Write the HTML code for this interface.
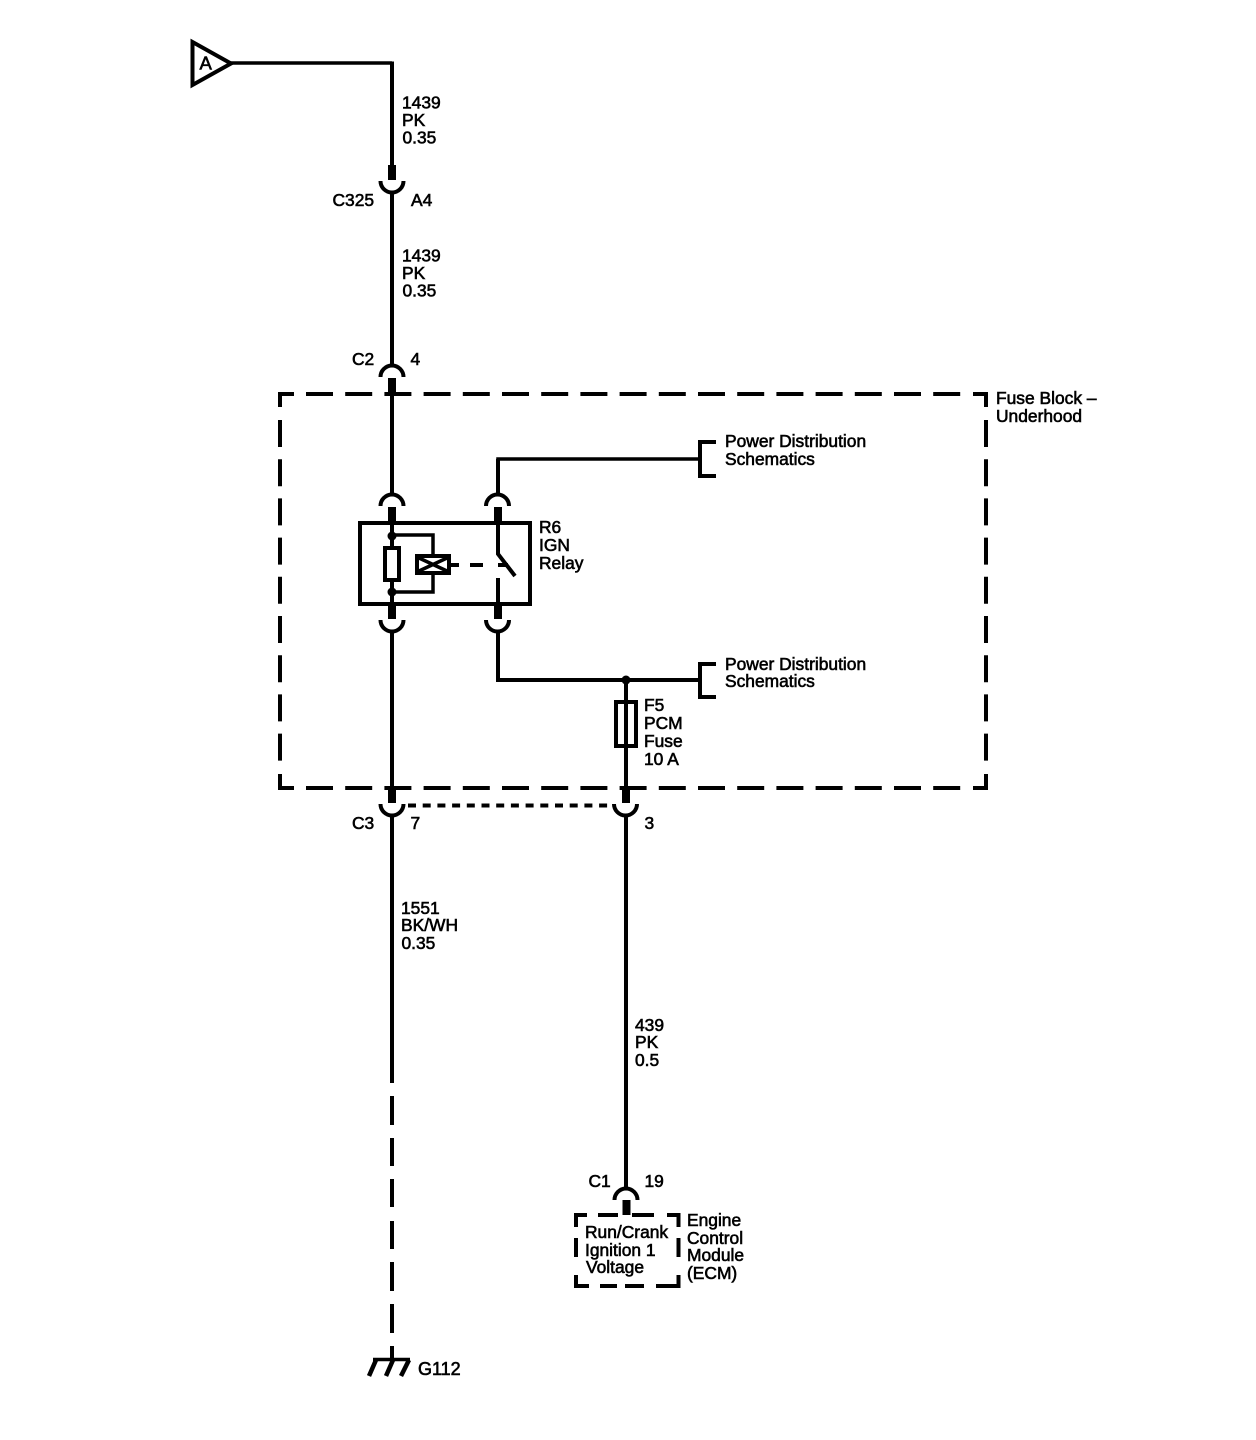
<!DOCTYPE html>
<html><head><meta charset="utf-8"><style>
html,body{margin:0;padding:0;background:#fff;width:1256px;height:1440px;overflow:hidden}
svg{display:block}
text{font-family:"Liberation Sans",sans-serif;font-size:17.4px;fill:#000;stroke:#000;stroke-width:.6}
.l{fill:none;stroke:#000;stroke-width:4}
.t{fill:none;stroke:#000;stroke-width:3.5}
.b{fill:none;stroke:#000;stroke-width:8}
.a{fill:none;stroke:#000;stroke-width:4}
</style></head><body>
<svg width="1256" height="1440" viewBox="0 0 1256 1440" xmlns="http://www.w3.org/2000/svg">
<rect width="1256" height="1440" fill="#fff"/>
<!-- off-page reference A -->
<polygon class="l" points="192.5,42 231,63.5 192.5,85"/>
<text x="199.5" y="69.5" style="font-size:18.5px">A</text>
<path class="t" d="M230 63H392"/>
<path class="l" d="M392 61.5V165"/>
<path class="b" d="M392 165V180"/>
<path class="a" d="M380.5 181A11.5 11.5 0 0 0 403.5 181"/>
<path class="l" d="M392 192V365"/>
<path class="a" d="M380.5 377A11.5 11.5 0 0 1 403.5 377"/>
<path class="b" d="M392 378V393"/>
<path class="l" d="M392 393V494"/>
<!-- fuse block dashed -->
<path class="l" d="M280 407V394H294M973 394H986V407M280 774V788H294M973 788H986V774"/>
<path class="l" stroke-dasharray="27 12.2" d="M306 394H962"/>
<path class="l" stroke-dasharray="27 12.2" d="M306 788H962"/>
<path class="l" stroke-dasharray="27 12.2" d="M280 420V762"/>
<path class="l" stroke-dasharray="27 12.2" d="M986 420V762"/>
<!-- relay upper connectors -->
<path class="a" d="M380.5 506A11.5 11.5 0 0 1 403.5 506"/>
<path class="a" d="M486 506A11.5 11.5 0 0 1 509 506"/>
<path class="b" d="M392 507V522M498 507V522"/>
<path class="t" d="M498 494V459H700"/>
<path class="l" d="M498 459V494"/>
<path class="l" d="M716 442H700V476H716"/>
<!-- relay box -->
<rect class="l" x="360" y="523" width="170" height="81"/>
<path class="l" d="M392 522V546M392 581V605"/>
<circle cx="392" cy="536" r="4.5"/>
<circle cx="392" cy="592" r="4.5"/>
<rect class="l" x="385" y="548" width="14" height="32"/>
<path class="t" d="M392 535H433V555M392 592H433V575"/>
<rect class="l" x="417" y="556" width="32" height="17"/>
<path class="t" d="M419 558L447 571M419 571L447 558"/>
<path class="l" d="M451 565H459M470 565H483M498 565H508"/>
<path class="l" d="M498 522V554L515 576M498 578V605"/>
<!-- relay lower connectors -->
<path class="b" d="M392 605V619M498 605V619"/>
<path class="a" d="M380.5 620A11.5 11.5 0 0 0 403.5 620"/>
<path class="a" d="M486 620A11.5 11.5 0 0 0 509 620"/>
<path class="l" d="M392 631V788M498 631V680"/>
<path class="l" d="M496 680H700"/>
<circle cx="626" cy="680" r="4.5"/>
<path class="l" d="M716 664H700V697H716"/>
<path class="l" d="M626 680V788"/>
<rect class="l" x="616" y="702" width="20" height="44"/>
<!-- C3 -->
<path class="b" d="M392 788V803M626 788V803"/>
<path class="a" d="M380.5 804A11.5 11.5 0 0 0 403.5 804"/>
<path class="a" d="M614 804A11.5 11.5 0 0 0 637 804"/>
<path class="l" stroke-dasharray="8 6.7" d="M408 805.5H612"/>
<path class="l" d="M392 815V1083M392 1096V1125M392 1138V1166M392 1179V1207M392 1221V1249M392 1262V1291M392 1304V1333M392 1346V1360"/>
<path class="l" d="M626 815V1189"/>
<!-- ground -->
<path class="t" d="M373 1359.5H410"/>
<path class="l" style="stroke-width:4.5" d="M376 1360L369 1376M393 1360L386 1376M409 1360L401 1376"/>
<!-- ECM -->
<path class="a" d="M614.5 1200A11.5 11.5 0 0 1 637.5 1200"/>
<path class="b" d="M626.5 1200V1215"/>
<path class="l" d="M587 1215H576V1227M598 1215H618M632 1215H654M667 1215H678.5V1227M576 1238V1257M678.5 1238V1257M576 1275V1286H589M600 1286H617M625 1286H644M656 1286H678.5V1275"/>
<!-- labels -->
<text x="402" y="108.5">1439</text><text x="402" y="126">PK</text><text x="402.5" y="143.5">0.35</text>
<text x="332.5" y="206">C325</text><text x="411" y="206">A4</text>
<text x="402" y="261.5">1439</text><text x="402" y="279">PK</text><text x="402.5" y="296.5">0.35</text>
<text x="352" y="365">C2</text><text x="410.5" y="365">4</text>
<text x="996" y="404">Fuse Block –</text><text x="996" y="422">Underhood</text>
<text x="725" y="447">Power Distribution</text><text x="725" y="465">Schematics</text>
<text x="539" y="533">R6</text><text x="539" y="551">IGN</text><text x="539" y="569">Relay</text>
<text x="725" y="670">Power Distribution</text><text x="725" y="687">Schematics</text>
<text x="644" y="711">F5</text><text x="644" y="729">PCM</text><text x="644" y="747">Fuse</text><text x="644" y="765">10 A</text>
<text x="352" y="829">C3</text><text x="410.5" y="829">7</text><text x="644.5" y="829">3</text>
<text x="401" y="914">1551</text><text x="401" y="931">BK/WH</text><text x="401.5" y="949">0.35</text>
<text x="635" y="1031">439</text><text x="635" y="1048">PK</text><text x="635" y="1066">0.5</text>
<text x="588.5" y="1187">C1</text><text x="644.5" y="1187">19</text>
<text x="585" y="1238">Run/Crank</text><text x="585" y="1256">Ignition 1</text><text x="586" y="1273">Voltage</text>
<text x="687" y="1226">Engine</text><text x="687" y="1244">Control</text><text x="687" y="1261">Module</text><text x="687" y="1279">(ECM)</text>
<text x="418" y="1375" style="font-size:18px">G112</text>
</svg>
</body></html>
